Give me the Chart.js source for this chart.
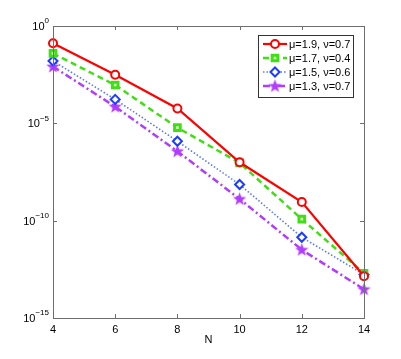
<!DOCTYPE html>
<html>
<head>
<meta charset="utf-8">
<script src="https://cdn.jsdelivr.net/npm/chart.js@4"></script>
<style>
  html, body { margin: 0; padding: 0; background: #fff; }
  #wrap { width: 401px; height: 359px; }
</style>
</head>
<body>
<div id="wrap"><canvas id="errChart" width="401" height="359"></canvas></div>
<script>
// values (log scale)
var nVals = [4, 6, 8, 10, 12, 14];
var err19 = [1.3e-1, 3.1e-3, 5.8e-5, 1.0e-7, 9.1e-10, 1.4e-13];
var err17 = [3.9e-2, 9.3e-4, 6.0e-6, 9.3e-8, 1.2e-10, 2.0e-13];
var err15 = [1.6e-2, 1.7e-4, 1.2e-6, 7.2e-9, 1.4e-11, 1.7e-13];
var err13 = [8.3e-3, 7.2e-5, 3.7e-7, 1.3e-9, 3.2e-12, 3.0e-14];
var seriesNames = ["μ=1.9, ν=0.7", "μ=1.7, ν=0.4", "μ=1.5, ν=0.6", "μ=1.3, ν=0.7"];
var xTicks = [4, 6, 8, 10, 12, 14];
var yTickExp = [0, -5, -10, -15];

var FONT = "'Liberation Sans', Arial, sans-serif";

function pts(ys) {
  return nVals.map(function (n, i) { return { x: n, y: ys[i] }; });
}

// filled five point star marker
function makeStar(color) {
  var c = document.createElement("canvas");
  c.width = 15; c.height = 15;
  var g = c.getContext("2d");
  g.fillStyle = color;
  g.beginPath();
  for (var k = 0; k < 10; k++) {
    var r = (k % 2 === 0) ? 7 : 2.9;
    var a = -Math.PI / 2 + k * Math.PI / 5;
    var px = 7.5 + r * Math.cos(a), py = 7.8 + r * Math.sin(a);
    if (k === 0) g.moveTo(px, py); else g.lineTo(px, py);
  }
  g.closePath();
  g.fill();
  return c;
}
var starImg = makeStar("#b13cff");

var frame = {
  id: "frame",
  afterDraw: function (chart) {
    var ctx = chart.ctx, a = chart.chartArea;
    var xs = chart.scales.x, ys = chart.scales.y;
    ctx.save();
    ctx.strokeStyle = "#6e6e6e";
    ctx.lineWidth = 1;
    ctx.strokeRect(Math.round(a.left) + 0.5, Math.round(a.top) + 0.5,
      Math.round(a.right - a.left), Math.round(a.bottom - a.top));
    ctx.beginPath();
    xTicks.forEach(function (v) {
      var px = Math.round(xs.getPixelForValue(v)) + 0.5;
      ctx.moveTo(px, a.top); ctx.lineTo(px, a.top + 4);
      ctx.moveTo(px, a.bottom); ctx.lineTo(px, a.bottom - 4);
    });
    yTickExp.forEach(function (e) {
      var py = Math.round(ys.getPixelForValue(Math.pow(10, e))) + 0.5;
      ctx.moveTo(a.left, py); ctx.lineTo(a.left + 4, py);
      ctx.moveTo(a.right, py); ctx.lineTo(a.right - 4, py);
    });
    ctx.stroke();

    // y tick labels 10^k
    ctx.fillStyle = "#000";
    ctx.textBaseline = "middle";
    yTickExp.forEach(function (e) {
      var py = ys.getPixelForValue(Math.pow(10, e));
      var sup = e === 0 ? "0" : "\u2212" + (-e);
      ctx.font = "8px " + FONT;
      var sw = ctx.measureText(sup).width;
      var right = a.left - 4;
      ctx.textAlign = "left";
      ctx.fillText(sup, right - sw, py - 5);
      ctx.font = "11px " + FONT;
      ctx.textAlign = "right";
      ctx.fillText("10", right - sw, py + 1);
    });

    // legend
    var lx = 258, ly = 35, lw = 95, lh = 62;
    ctx.fillStyle = "#fff";
    ctx.fillRect(lx, ly, lw, lh);
    ctx.strokeStyle = "#333";
    ctx.strokeRect(lx + 0.5, ly + 0.5, lw, lh);
    chart.data.datasets.forEach(function (ds, i) {
      var cy = ly + 9 + i * 14;
      ctx.save();
      ctx.strokeStyle = ds.borderColor;
      ctx.lineWidth = ds.borderWidth;
      ctx.setLineDash(ds.borderDash || []);
      ctx.beginPath();
      ctx.moveTo(lx + 5, cy); ctx.lineTo(lx + 29, cy);
      ctx.stroke();
      ctx.setLineDash([]);
      ctx.strokeStyle = ds.pointBorderColor;
      ctx.fillStyle = ds.pointBackgroundColor;
      ctx.lineWidth = ds.pointBorderWidth;
      Chart.helpers.drawPoint(ctx, {
        pointStyle: ds.pointStyle, radius: ds.pointRadius,
        borderWidth: ds.pointBorderWidth, rotation: 0
      }, lx + 17, cy);
      ctx.restore();
      ctx.fillStyle = "#000";
      ctx.font = "11px " + FONT;
      ctx.textAlign = "left";
      ctx.textBaseline = "middle";
      ctx.fillText(seriesNames[i], lx + 31, cy + 1);
    });
    ctx.restore();
  }
};

new Chart(document.getElementById("errChart"), {
  type: "line",
  data: {
    datasets: [
      {
        label: seriesNames[0], data: pts(err19),
        borderColor: "#ff0000", borderWidth: 2.2,
        pointStyle: "circle", pointRadius: 4, pointBorderWidth: 2,
        pointBorderColor: "#ff0000", pointBackgroundColor: "#ffffff"
      },
      {
        label: seriesNames[1], data: pts(err17),
        borderColor: "#3fe012", borderWidth: 2.5, borderDash: [6, 4],
        pointStyle: "rect", pointRadius: 4, pointBorderWidth: 3,
        pointBorderColor: "#3fe012", pointBackgroundColor: "#d8f8c8"
      },
      {
        label: seriesNames[2], data: pts(err15),
        borderColor: "#5a78ff", borderWidth: 1.6, borderDash: [1.5, 2],
        pointStyle: "rectRot", pointRadius: 4.5, pointBorderWidth: 2,
        pointBorderColor: "#1c3cff", pointBackgroundColor: "#ffffff"
      },
      {
        label: seriesNames[3], data: pts(err13),
        borderColor: "#b13cff", borderWidth: 2.5, borderDash: [7, 3, 2, 3],
        pointStyle: starImg, pointRadius: 7, pointBorderWidth: 1,
        pointBorderColor: "#b13cff", pointBackgroundColor: "#b13cff"
      }
    ]
  },
  options: {
    responsive: false,
    animation: false,
    clip: false,
    layout: { padding: { top: 26, right: 37, left: 0, bottom: 0 } },
    plugins: { legend: { display: false }, tooltip: { enabled: false } },
    elements: { line: { tension: 0 } },
    scales: {
      x: {
        type: "linear", min: 4, max: 14,
        grid: { display: false, drawTicks: false },
        border: { display: false },
        afterFit: function (s) { s.height = 41; },
        afterBuildTicks: function (s) { s.ticks = xTicks.map(function (v) { return { value: v }; }); },
        ticks: { color: "#000", padding: 5, font: { family: FONT, size: 11 } },
        title: { display: true, text: "N", color: "#000", padding: { top: 0, bottom: 12 }, font: { family: FONT, size: 11 } }
      },
      y: {
        type: "logarithmic", min: 1e-15, max: 1,
        grid: { display: false, drawTicks: false },
        border: { display: false },
        ticks: { display: false },
        afterFit: function (s) { s.width = 53; }
      }
    }
  },
  plugins: [frame]
});
</script>
</body>
</html>
